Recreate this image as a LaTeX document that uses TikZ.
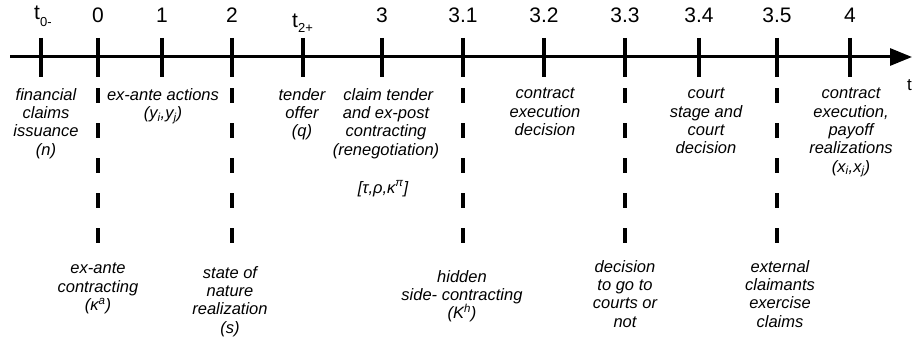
\documentclass[tikz,border=0pt]{standalone}
\usepackage{fontspec}
\setmainfont{Liberation Sans}
\usetikzlibrary{arrows.meta}

\begin{document}
\begin{tikzpicture}[x=1pt,y=-1pt]
%  \draw [step=50,color=gray] (0,0) grid (912,337);
  \useasboundingbox (0,0) rectangle (912,337);
  \tikzstyle {stamp}=[inner sep=0pt,anchor=base,font=\fontsize{21}{21}\selectfont];
  \tikzstyle {event}=[inner sep=0pt,anchor=north,align=center,font=\itshape\fontsize{16.5}{18.3}\selectfont];
  \tikzstyle {tick}=[line width=3.2pt];
  \tikzstyle {hidden}=[line width=3.4pt,dash pattern=on 15pt off 20pt];

  \coordinate (start) at (10,57);
  \coordinate (end) at (912,57);
  \draw [line width=3pt,-{Triangle[length=22pt,width=17pt]}] (start) -- (end);
  \path (907,90) node [stamp,anchor=base west,font=\fontsize{17}{17}\selectfont] (tt) {t};

  % time stamps
  \path (34,20) node [stamp,anchor=base west] (t0m) {t\raisebox{-6pt}{\fontsize{13}{13}\selectfont 0-}};
  \path (98,23) node [stamp] (t0) {0};
  \path (162,23) node [stamp] (t1) {1};
  \path (232,23) node [stamp] (t2) {2};
  \path (292,28) node [stamp,anchor=base west] (t2p) {t\raisebox{-5pt}{\fontsize{13}{13}\selectfont 2+}};
  \path (382,23) node [stamp] (t3) {3};
  \path (463,23) node [stamp] (t31) {3.1};
  \path (544,23) node [stamp] (t32) {3.2};
  \path (625,23) node [stamp] (t33) {3.3};
  \path (699,23) node [stamp] (t34) {3.4};
  \path (777,23) node [stamp] (t35) {3.5};
  \path (850,23) node [stamp] (t4) {4};

  \draw [tick] (41,38) -- (41,77)
        (98,38) -- (98,77)
        (162,38) -- (162,77)
        (232,38) -- (232,77)
        (303,38) -- (303,77)
        (382,38) -- (382,77)
        (463,38) -- (463,77)
        (544,38) -- (544,77)
        (625,38) -- (625,77)
        (699,38) -- (699,77)
        (777,38) -- (777,77)
        (850,38) -- (850,77);

  \draw [hidden] (98,88) -- (98,245)
        (232,88) -- (232,245)
        (463,88) -- (463,245)
        (625,88) -- (625,245)
        (777,88) -- (777,245);

  % events above
  \path (46,88) node [event] (issue) {financial\\claims\\issuance\\(n)};
  \path (163,88) node [event] (actions) {ex-ante actions\\(y\textsubscript{i},y\textsubscript{j})};
  \path (302,88) node [event] (offer) {tender\\offer\\(q)};
  \path (386,88) node [event] (tender) {\ claim tender\\and ex-post\\contracting\\(renegotiation)};
  \path (383,193) node [event,anchor=base] (terms) {[τ,ρ,κ\textsuperscript{π}]};
  \path (545,88) node [event] (execdec) {contract\\execution\\decision};
  \path (706,88) node [event] (court) {court\\stage and\\court\\decision};
  \path (851,88) node [event] (payoff) {contract\\execution,\\payoff\\realizations\\(x\textsubscript{i},x\textsubscript{j})};

  % events below
  \path (98,263) node [event] (exante) {ex-ante\\contracting\\(κ\textsuperscript{a})};
  \path (230,266) node [event] (nature) {state of\\nature\\realization\\(s)};
  \path (462,270) node [event] (side) {hidden\\side- contracting\\(K\textsuperscript{h})};
  \path (625,260) node [event] (courts) {decision\\to go to\\courts or\\not};
  \path (780,260) node [event] (claims) {external\\claimants\\exercise\\claims};
\end{tikzpicture}
\end{document}
